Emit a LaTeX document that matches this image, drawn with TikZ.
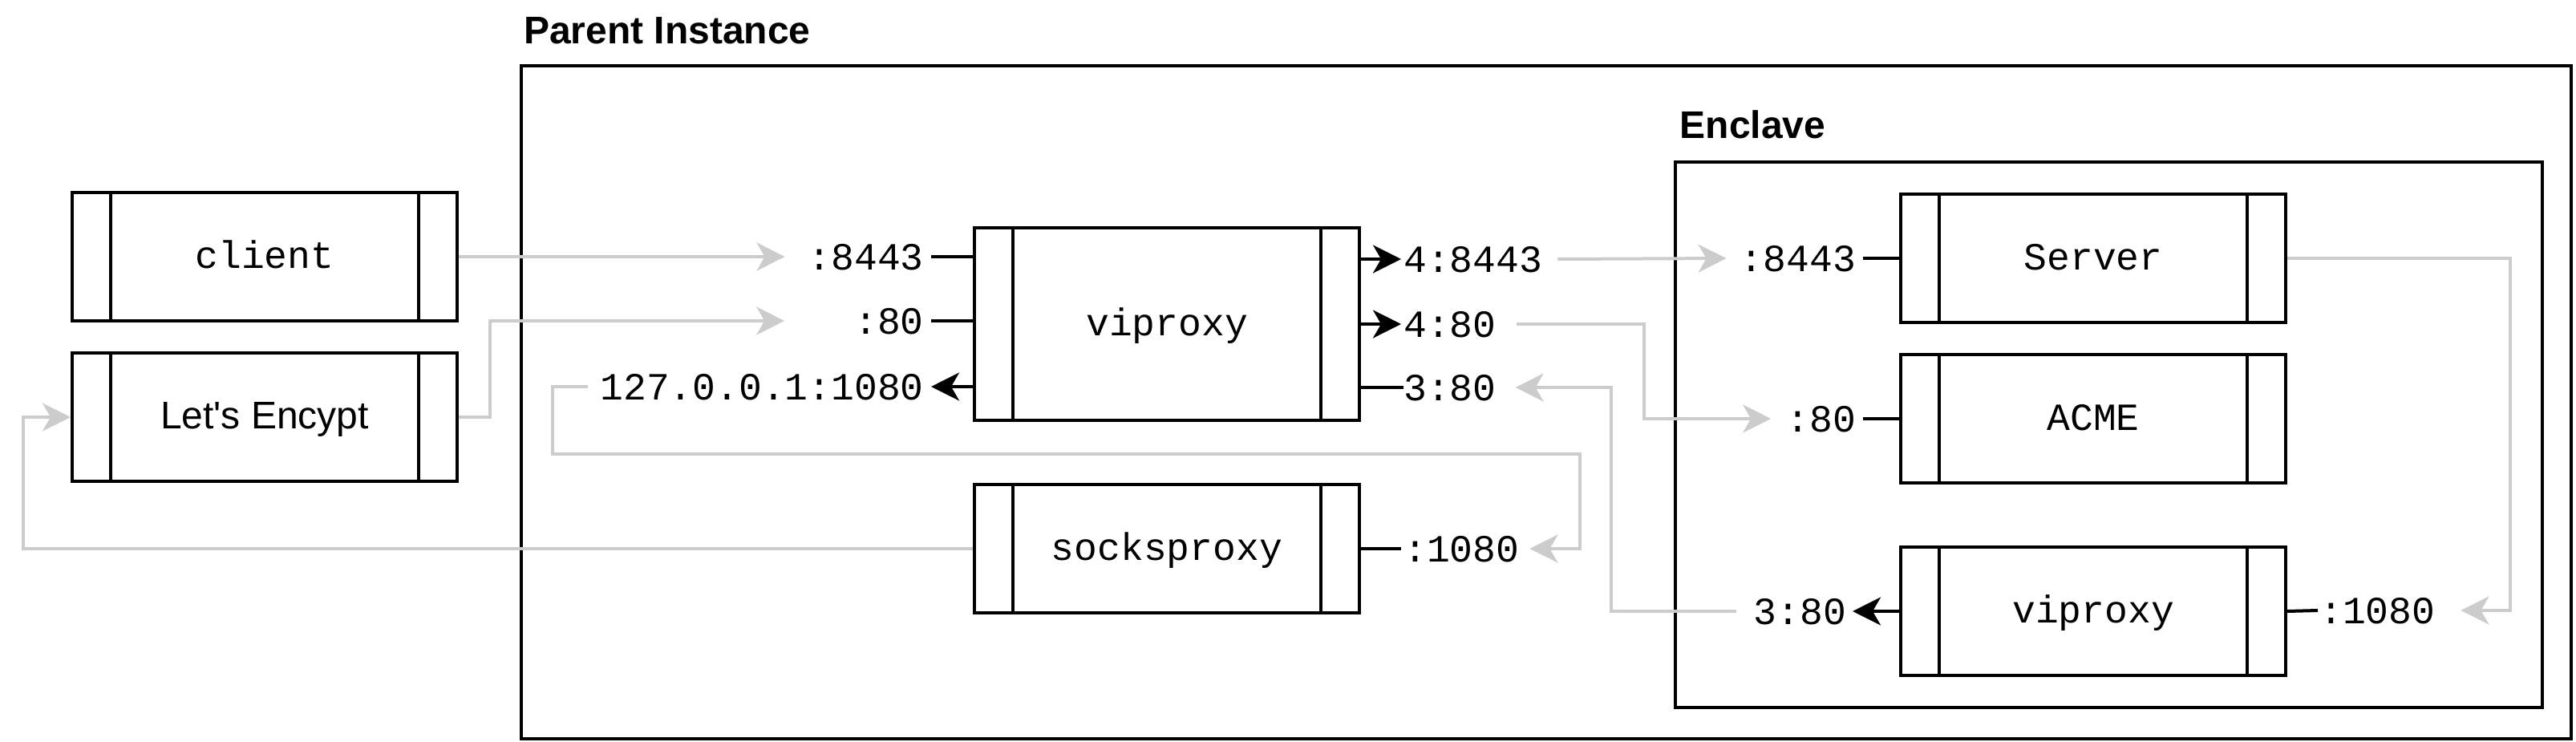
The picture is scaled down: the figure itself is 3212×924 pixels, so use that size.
\documentclass[tikz,border=0pt]{standalone}
\usepackage{fontspec}
\setmainfont{Liberation Sans}[Ligatures=TeXOff]
\newfontfamily\monofont{Liberation Mono}[Ligatures=TeXOff]
\usetikzlibrary{arrows.meta}
\definecolor{linkgray}{HTML}{CCCCCC}
\tikzset{
  procbox/.style={draw=black, line width=4pt, fill=white, minimum width=480pt,
    minimum height=#1, inner sep=0pt, text height=34pt, text depth=6pt,
    font=\monofont\fontsize{48pt}{58pt}\selectfont,
    path picture={\draw[line width=4pt]
      ([xshift=48pt]path picture bounding box.north west) -- ([xshift=48pt]path picture bounding box.south west)
      ([xshift=-48pt]path picture bounding box.north east) -- ([xshift=-48pt]path picture bounding box.south east);}},
  procbox/.default=160pt,
  container/.style={draw=black, line width=4pt, inner sep=0pt},
  portlbl/.style={inner sep=0pt, text height=32pt, text depth=0pt,
    font=\monofont\fontsize{48pt}{58pt}\selectfont},
  titlelbl/.style={inner sep=0pt, anchor=base west,
    font=\bfseries\fontsize{48pt}{58pt}\selectfont},
  grayline/.style={draw=linkgray, line width=4pt},
  grayarrow/.style={grayline, -{Stealth[length=35pt,width=35pt,inset=10pt]}},
  blackline/.style={draw=black, line width=4pt},
  blackarrow/.style={blackline, -{Stealth[length=35pt,width=35pt,inset=10pt]}},
}
\begin{document}
\begin{tikzpicture}[x=1pt, y=-1pt]
\useasboundingbox (0,0) rectangle (3212,924);

% containers
\node[container, minimum width=2556pt, minimum height=839pt] (parent) at (1928,501.5) {};
\node[container, minimum width=1081pt, minimum height=680pt] (enclave) at (2629.5,542) {};
\node[titlelbl] (ptitle) at (653,54) {Parent Instance};
\node[titlelbl] (etitle) at (2094.5,172) {Enclave};

% boxes
\node[procbox] (client) at (330,320) {client};
\node[procbox, font=\fontsize{48pt}{58pt}\selectfont] (lets) at (330,520) {Let's Encypt};
\node[procbox=240pt] (viproxyP) at (1455,404) {viproxy};
\node[procbox] (socks) at (1455,684) {socksproxy};
\node[procbox] (server) at (2610,322) {Server};
\node[procbox] (acme) at (2610,522) {ACME};
\node[procbox] (viproxyE) at (2610,762) {viproxy};

% port labels
\node[portlbl, anchor=east] (pl8443) at (1152,320) {:8443};
\node[portlbl, anchor=east] (pl80) at (1152,400) {:80};
\node[portlbl, anchor=east] (pl127) at (1152,482) {127.0.0.1:1080};
\node[portlbl, anchor=west] (pr8443) at (1750,323) {4:8443};
\node[portlbl, anchor=west] (pr480) at (1750,404) {4:80};
\node[portlbl, anchor=west] (pr380) at (1750,483) {3:80};
\node[portlbl, anchor=west] (ps1080) at (1750,684) {:1080};
\node[portlbl, anchor=east] (es8443) at (2314,322) {:8443};
\node[portlbl, anchor=east] (ea80) at (2314,522) {:80};
\node[portlbl, anchor=east] (ev380) at (2302,762) {3:80};
\node[portlbl, anchor=west] (ev1080) at (2892,761) {:1080};

% black port connectors
\draw[blackline] ([xshift=9pt]pl8443.east) -- (viproxyP.west |- pl8443.east);
\draw[blackline] ([xshift=9pt]pl80.east) -- (viproxyP.west |- pl80.east);
\draw[blackarrow] (viproxyP.west |- pl127.east) -- ([xshift=9pt]pl127.east);
\draw[blackarrow] (viproxyP.east |- pr8443.west) -- ([xshift=-3pt]pr8443.west);
\draw[blackarrow] (viproxyP.east |- pr480.west) -- ([xshift=-3pt]pr480.west);
\draw[blackline] (viproxyP.east |- pr380.west) -- (pr380.west);
\draw[blackline] (socks.east) -- ([xshift=-3pt]ps1080.west);
\draw[blackline] ([xshift=9pt]es8443.east) -- (server.west);
\draw[blackline] ([xshift=9pt]ea80.east) -- (acme.west);
\draw[blackarrow] (viproxyE.west) -- ([xshift=8pt]ev380.east);
\draw[blackline] (viproxyE.east) -- ([xshift=-2pt]ev1080.west);

% gray flow connectors
\draw[grayarrow] (client.east) -- ([xshift=-29pt]pl8443.west);
\draw[grayarrow] (lets.east) -- (611,520) |- ([xshift=-87pt]pl80.west);
\draw[grayarrow] ([xshift=-15pt]pl127.west) -- (689,482) -- (689,566) -- (1970,566) |- ([xshift=13pt]ps1080.east);
\draw[grayarrow] (socks.west) -- (29,684) |- (lets.west);
\draw[grayarrow] ([xshift=19pt]pr8443.east) -- ([xshift=-17pt]es8443.west);
\draw[grayarrow] ([xshift=25pt]pr480.east) -- (2050,404) |- ([xshift=-19pt]ea80.west);
\draw[grayarrow] (server.east) -- (3130,322) |- ([xshift=32pt]ev1080.east);
\draw[grayarrow] ([xshift=-21pt]ev380.west) -- (2009,762) |- ([xshift=24pt]pr380.east);
\end{tikzpicture}
\end{document}
